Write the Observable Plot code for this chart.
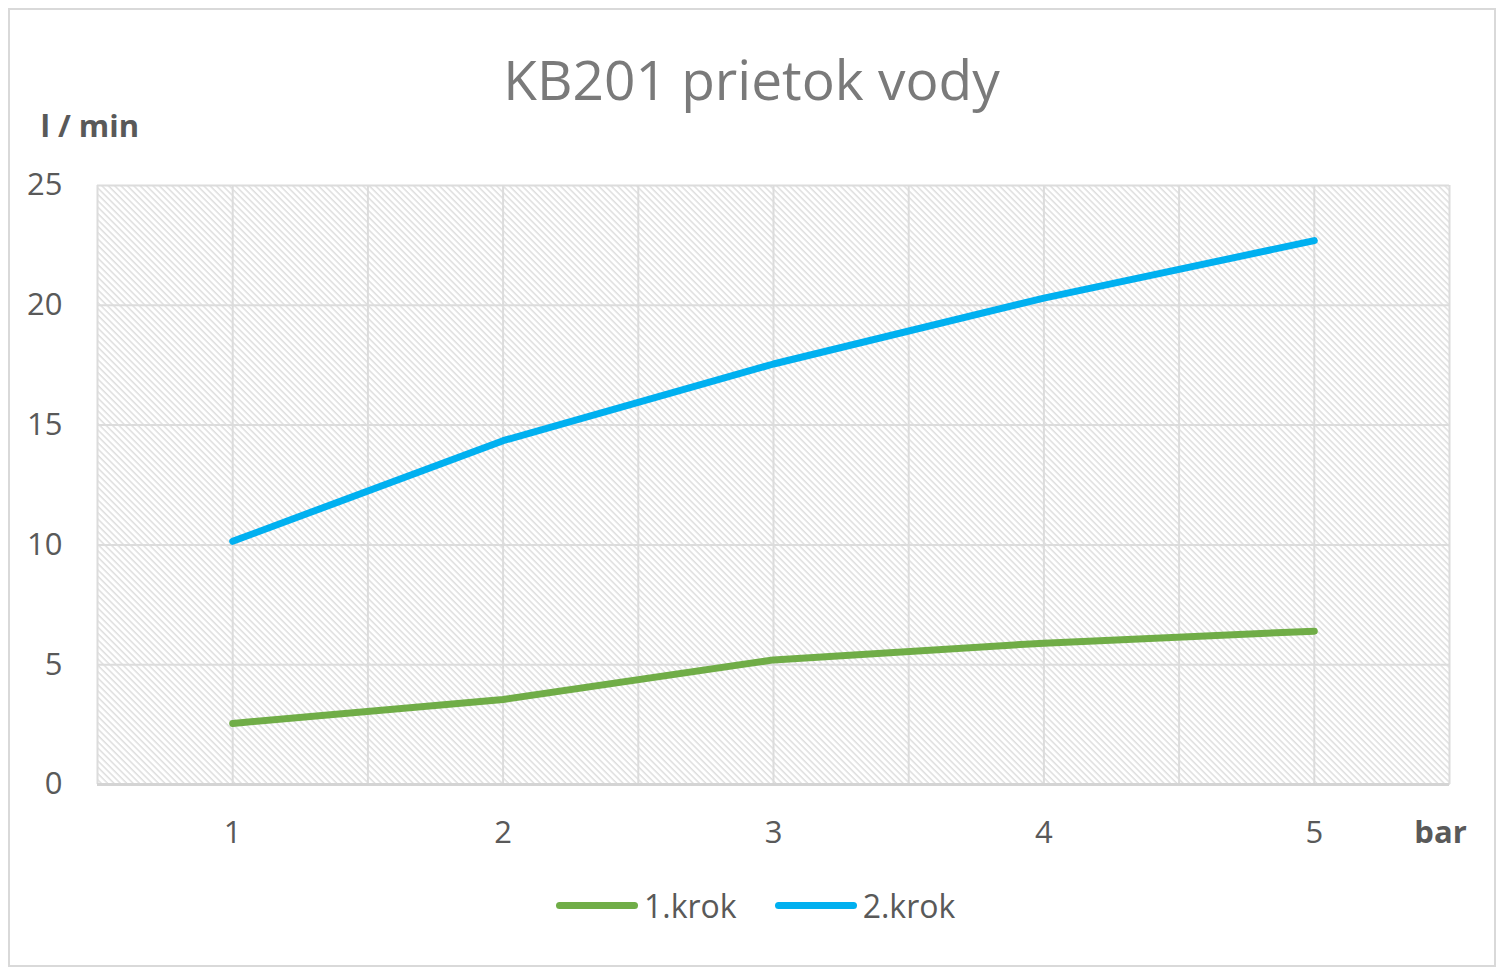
<!DOCTYPE html>
<html>
<head>
<meta charset="utf-8">
<script src="https://cdn.jsdelivr.net/npm/d3@7"></script>
<script src="https://cdn.jsdelivr.net/npm/@observablehq/plot@0.6"></script>
<style>
  html, body { margin: 0; padding: 0; background: #fff; }
  #wrap { position: relative; width: 1500px; height: 968px; font-family: "Open Sans", sans-serif; }
  #border { position: absolute; left: 8px; top: 8px; width: 1484px; height: 955px; border: 2px solid #d9d9d9; pointer-events: none; }
  #legend { position: absolute; left: 556px; top: 882px; display: flex; align-items: center; font-size: 32px; color: #595959; height: 46px; }
  .item { display: flex; align-items: center; margin-right: 38px; }
  .sw { width: 82px; height: 7px; border-radius: 4px; margin-right: 6px; }
</style>
</head>
<body>
<div id="wrap"><div id="border"></div><div id="chart"></div><div id="legend"></div></div>
<script>
const pressure = [1, 2, 3, 4, 5];
const krok1 = [2.55, 3.55, 5.2, 5.9, 6.4];
const krok2 = [10.15, 14.35, 17.55, 20.3, 22.7];
const seriesNames = ["1.krok", "2.krok"];
const seriesColors = ["#70ad47", "#00b0f0"];
const yTicks = [0, 5, 10, 15, 20, 25];
const xTicks = [1, 2, 3, 4, 5];
const xGrid = [0.5, 1, 1.5, 2, 2.5, 3, 3.5, 4, 4.5, 5, 5.5];

const data = [];
[krok1, krok2].forEach((vals, i) => {
  pressure.forEach((p, j) => data.push({series: seriesNames[i], x: p, y: vals[j]}));
});

const tickColor = "#595959";
const plot = Plot.plot({
  width: 1500,
  height: 968,
  marginLeft: 97,
  marginRight: 51,
  marginTop: 185,
  marginBottom: 184,
  style: {fontFamily: "Open Sans, sans-serif", background: "transparent"},
  x: {domain: [0.5, 5.5]},
  y: {domain: [0, 25]},
  color: {domain: seriesNames, range: seriesColors},
  marks: [
    Plot.frame({fill: "url(#hatch)", stroke: "#e3e3e3", strokeWidth: 1}),
    Plot.gridX(xGrid, {stroke: "#dcdcdc", strokeOpacity: 1, strokeWidth: 2}),
    Plot.gridY(yTicks, {stroke: "#dcdcdc", strokeOpacity: 1, strokeWidth: 2}),
    Plot.ruleY([0], {stroke: "#d4d4d4", strokeWidth: 3}),
    Plot.axisY(yTicks, {tickSize: 0, tickPadding: 35, fontSize: 31, color: tickColor, label: null, tickFormat: d => String(d)}),
    Plot.axisX(xTicks, {tickSize: 0, tickPadding: 36, fontSize: 31, color: tickColor, label: null, tickFormat: d => String(d)}),
    Plot.line(data, {x: "x", y: "y", stroke: "series", strokeWidth: 7, strokeLinecap: "round", strokeLinejoin: "round"}),
    Plot.text(["KB201 prietok vody"], {frameAnchor: "top", dx: -22, dy: -103, fontSize: 55, fill: "#7a7a7a", lineAnchor: "middle"}),
    Plot.text(["l / min"], {frameAnchor: "top-left", textAnchor: "start", dx: -57, dy: -58, fontSize: 31, fontWeight: "bold", fill: tickColor, lineAnchor: "middle"}),
    Plot.text(["bar"], {frameAnchor: "bottom-right", textAnchor: "middle", dx: -9, dy: 49, fontSize: 31, fontWeight: "bold", fill: tickColor, lineAnchor: "middle"})
  ]
});

d3.select(plot).insert("defs", ":first-child").html(
  '<pattern id="hatch" patternUnits="userSpaceOnUse" width="4.5" height="4.5" patternTransform="rotate(45)">' +
  '<rect width="4.5" height="4.5" fill="#ffffff"/>' +
  '<line x1="0" y1="0.75" x2="4.5" y2="0.75" stroke="#dcdcdc" stroke-width="1.4"/></pattern>'
);
document.getElementById("chart").appendChild(plot);

const legend = d3.select("#legend");
seriesNames.forEach((name, i) => {
  const it = legend.append("div").attr("class", "item");
  it.append("div").attr("class", "sw").style("background", seriesColors[i]);
  it.append("span").text(name);
});
</script>
</body>
</html>
